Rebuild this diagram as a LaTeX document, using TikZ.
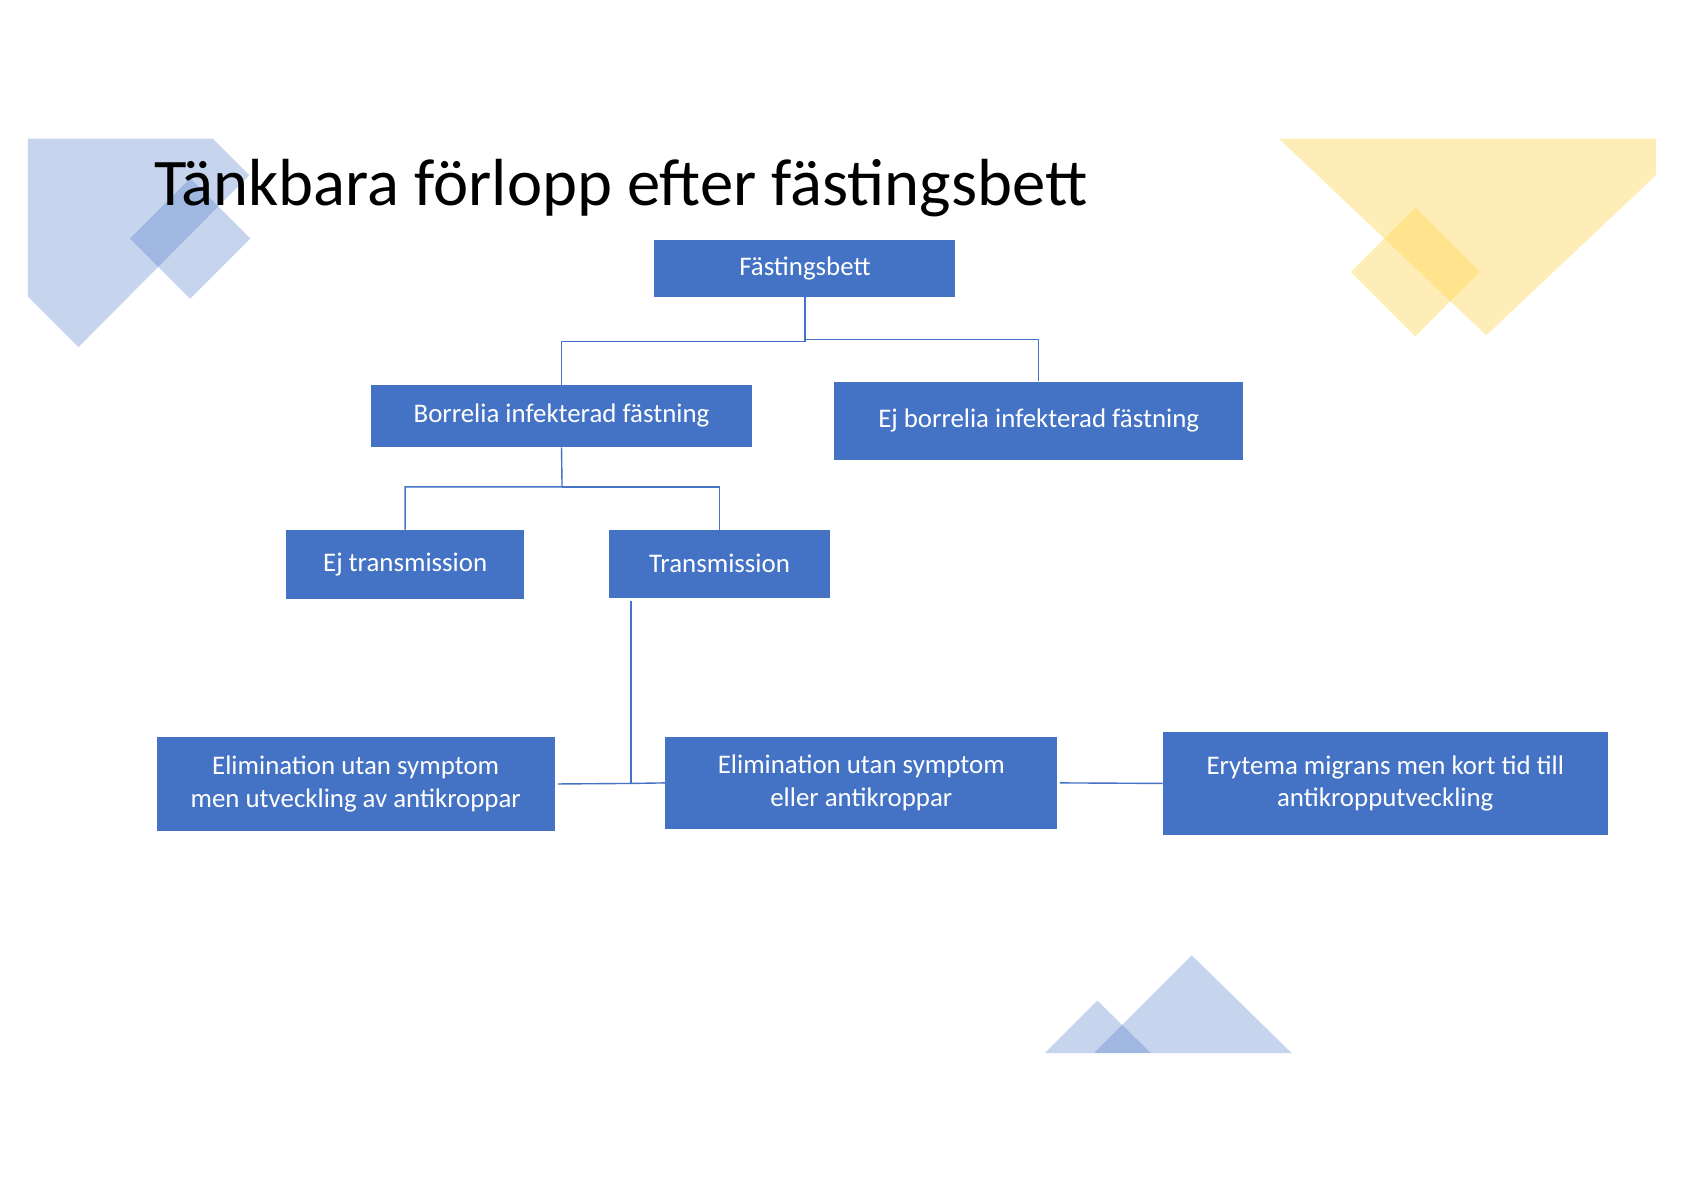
\documentclass[tikz,border=0pt]{standalone}
\usepackage{fontspec}
\setmainfont{Carlito}
\definecolor{bl}{HTML}{4472C4}
\definecolor{yl}{HTML}{FFD34D}
\begin{document}
\begin{tikzpicture}[x=1pt,y=-1pt,
  bx/.style={fill=bl,text=white,font=\fontsize{25}{30}\selectfont,align=center,inner sep=0pt},
  ln/.style={draw=bl,line width=1.3pt}]
\useasboundingbox (0,0) rectangle (1567,1108);
% decorations
\fill[bl,opacity=0.3] (26,129)--(198,129)--(232,163)--(73,323)--(26,276)--cycle;
\fill[bl,opacity=0.3] (121,222)--(177,166)--(233,222)--(177,278)--cycle;
\fill[yl,opacity=0.4] (1190,129)--(1541,129)--(1541,163)--(1383,312)--cycle;
\fill[yl,opacity=0.4] (1257,253)--(1317,193)--(1377,253)--(1317,313)--cycle;
\fill[bl,opacity=0.3] (972,980)--(1021,931)--(1071,980)--cycle;
\fill[bl,opacity=0.3] (1018,980)--(1109,889)--(1202,980)--cycle;
% title
\node[anchor=west,font=\fontsize{62}{70}\selectfont] (title) at (140,175) {Tänkbara förlopp efter fästingsbett};
% boxes
\node[bx,minimum width=280,minimum height=53] (a) at (749,249.5) {Fästingsbett};
\node[bx,minimum width=355,minimum height=58] (b) at (522.5,387) {Borrelia infekterad fästning};
\node[bx,minimum width=381,minimum height=73] (c) at (966.5,391.5) {Ej borrelia infekterad fästning};
\node[bx,minimum width=222,minimum height=64] (d) at (377,525) {Ej transmission};
\node[bx,minimum width=205,minimum height=63] (e) at (669.5,524.5) {Transmission};
\node[bx,minimum width=370,minimum height=87] (f) at (331,729.5) {Elimination utan symptom\\men utveckling av antikroppar};
\node[bx,minimum width=365,minimum height=85] (g) at (801.5,728.5) {Elimination utan symptom\\eller antikroppar};
\node[bx,minimum width=414,minimum height=96] (h) at (1289,729) {Erytema migrans men kort tid till\\antikropputveckling};
% connectors
\coordinate (j1) at (749,318);
\coordinate (j2) at (749,316);
\coordinate (j3) at (523,453);
\coordinate (j4) at (587,729);
\draw[ln] (a.south) -- (j1) -| (b.north);
\draw[ln] (j2) -| (c.north);
\draw[ln] (b.south) -- (j3) -| (d.north);
\draw[ln] (j3) -| (e.north);
\draw[ln] (587,559) coordinate (t) -- (j4);
\draw[ln] (f.east) ++(3,0) -- (j4) -- (g.west);
\draw[ln] (g.east) ++(2,0) -- (h.west);
\end{tikzpicture}
\end{document}
